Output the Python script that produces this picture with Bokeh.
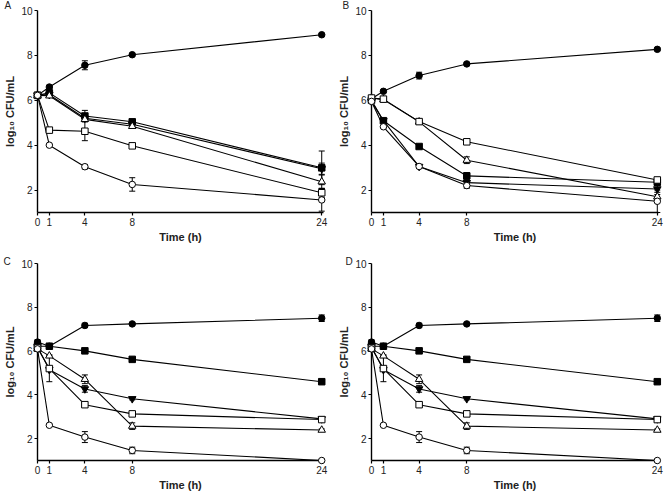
from bokeh.plotting import figure
from bokeh.layouts import gridplot
from bokeh.models import FixedTicker, Range1d
from bokeh.core.properties import value
from bokeh.embed import file_html
from bokeh.resources import INLINE

time_h = [0, 1, 4, 8, 24]
x_ticks = [0, 1, 4, 8, 24]
y_ticks = [2, 4, 6, 8, 10]

# ---- Panel A ----
A_ctrl = [6.22, 6.59, 7.56, 8.03, 8.92]
A_ctrl_err = [0.04, 0.07, 0.20, 0.05, 0.05]
A_fsq = [6.22, 6.33, 5.30, 5.04, 2.99]
A_fsq_err = [0.04, 0.05, 0.25, 0.08, 0.75]
A_ftri = [6.22, 6.25, 5.20, 4.93, 2.95]
A_ftri_err = [0.04, 0.05, 0.10, 0.08, 0.25]
A_otri = [6.22, 6.20, 5.15, 4.84, 2.37]
A_otri_err = [0.04, 0.05, 0.10, 0.08, 0.30]
A_osq = [6.22, 4.67, 4.62, 3.97, 1.88]
A_osq_err = [0.04, 0.05, 0.42, 0.06, 0.20]
A_ocir = [6.22, 4.00, 3.04, 2.25, 1.56]
A_ocir_err = [0.04, 0.04, 0.10, 0.30, 0.50]

# ---- Panel B ----
B_ctrl = [6.07, 6.40, 7.10, 7.62, 8.27]
B_ctrl_err = [0.04, 0.05, 0.15, 0.05, 0.06]
B_fsq = [6.00, 5.09, 3.94, 2.63, 2.35]
B_fsq_err = [0.04, 0.05, 0.06, 0.15, 0.10]
B_ftri = [5.95, 5.09, 3.05, 2.33, 2.05]
B_ftri_err = [0.04, 0.05, 0.06, 0.12, 0.15]
B_otri = [6.10, 6.03, 5.04, 3.33, 1.70]
B_otri_err = [0.04, 0.05, 0.06, 0.15, 0.10]
B_osq = [6.10, 6.05, 5.05, 4.15, 2.45]
B_osq_err = [0.04, 0.05, 0.06, 0.06, 0.06]
B_ocir = [5.95, 4.82, 3.05, 2.20, 1.50]
B_ocir_err = [0.04, 0.05, 0.06, 0.12, 0.50]

# ---- Panel C ----
C_ctrl = [6.41, 6.22, 7.17, 7.24, 7.50]
C_ctrl_err = [0.10, 0.05, 0.10, 0.05, 0.15]
C_fsq = [6.22, 6.22, 6.01, 5.62, 4.60]
C_fsq_err = [0.05, 0.05, 0.05, 0.07, 0.05]
C_ftri = [6.20, 5.15, 4.27, 3.82, 2.90]
C_ftri_err = [0.15, 0.05, 0.15, 0.05, 0.05]
C_otri = [6.10, 5.78, 4.71, 2.57, 2.39]
C_otri_err = [0.05, 0.05, 0.20, 0.15, 0.05]
C_osq = [6.14, 5.20, 3.55, 3.13, 2.87]
C_osq_err = [0.05, 0.60, 0.07, 0.05, 0.05]
C_ocir = [6.10, 2.61, 2.07, 1.46, 1.00]
C_ocir_err = [0.05, 0.05, 0.25, 0.15, 0.02]

# ---- Panel D ----
D_ctrl = [6.41, 6.22, 7.17, 7.24, 7.50]
D_ctrl_err = [0.10, 0.05, 0.10, 0.05, 0.15]
D_fsq = [6.22, 6.22, 6.01, 5.62, 4.60]
D_fsq_err = [0.05, 0.05, 0.05, 0.07, 0.05]
D_ftri = [6.20, 5.15, 4.27, 3.82, 2.90]
D_ftri_err = [0.15, 0.05, 0.15, 0.05, 0.05]
D_otri = [6.10, 5.78, 4.71, 2.57, 2.39]
D_otri_err = [0.05, 0.05, 0.20, 0.15, 0.05]
D_osq = [6.14, 5.20, 3.55, 3.13, 2.87]
D_osq_err = [0.05, 0.60, 0.07, 0.05, 0.05]
D_ocir = [6.10, 2.61, 2.07, 1.46, 1.00]
D_ocir_err = [0.05, 0.05, 0.25, 0.15, 0.02]

marker_styles = [
    ("circle", "black", 6.5),
    ("square", "black", 6.5),
    ("inverted_triangle", "black", 7.5),
    ("triangle", "white", 7.5),
    ("square", "white", 6.5),
    ("circle", "white", 6.5),
]


def make_panel(letter, series, errors, frame_w, frame_h, x_end,
               b_left, b_right, b_top, b_bottom, lx, ly):
    p = figure(frame_width=frame_w, frame_height=frame_h, output_backend="svg",
               toolbar_location=None, x_range=Range1d(0, x_end), y_range=Range1d(1, 10),
               min_border_left=b_left, min_border_right=b_right, min_border_top=b_top,
               min_border_bottom=b_bottom)
    p.outline_line_color = None
    p.xgrid.visible = False
    p.ygrid.visible = False
    p.background_fill_color = "white"
    p.border_fill_color = "white"
    p.xaxis.ticker = FixedTicker(ticks=x_ticks)
    p.yaxis.ticker = FixedTicker(ticks=y_ticks)
    for ax in (p.xaxis[0], p.yaxis[0]):
        ax.axis_line_width = 1.4
        ax.axis_line_color = "black"
        ax.major_tick_line_color = "black"
        ax.major_tick_line_width = 1.2
        ax.major_tick_out = 3
        ax.major_tick_in = 0
        ax.minor_tick_line_color = None
        ax.major_label_text_font = "Liberation Sans"
        ax.major_label_text_font_size = "10px"
        ax.major_label_text_color = "#222222"
        ax.major_label_standoff = 2
        ax.axis_label_text_font = "Liberation Sans"
        ax.axis_label_text_font_style = "bold"
        ax.axis_label_text_font_size = "11px"
        ax.axis_label_text_color = "#222222"
        ax.axis_label_standoff = 2
    p.xaxis.axis_label = "Time (h)"
    p.yaxis.axis_label = "log₁₀ CFU/mL"

    for ys in series:
        p.line(time_h, ys, line_color="black", line_width=1.1)
    for ys, es in zip(series, errors):
        lo = [y - e for y, e in zip(ys, es)]
        hi = [y + e for y, e in zip(ys, es)]
        p.segment(x0=time_h, y0=lo, x1=time_h, y1=hi, line_color="black",
                  line_width=1, level="overlay")
        p.scatter(time_h, lo, marker="dash", size=6, line_color="black", line_width=1, level="overlay")
        p.scatter(time_h, hi, marker="dash", size=6, line_color="black", line_width=1, level="overlay")
    for ys, (mk, fill, sz) in zip(series, marker_styles):
        p.scatter(time_h, ys, marker=mk, size=sz, fill_color=fill, line_color="black",
                  line_width=1, level="overlay")
    p.text(x=[lx], y=[ly], text=[letter], text_baseline="top", text_align="left",
           text_font=value("Liberation Sans"), text_font_size="10px",
           text_color="#222222", level="overlay")
    return p


pA = make_panel("A", [A_ctrl, A_fsq, A_ftri, A_otri, A_osq, A_ocir],
                [A_ctrl_err, A_fsq_err, A_ftri_err, A_otri_err, A_osq_err, A_ocir_err],
                286, 202, 24.15, 37, 9, 10, 34, -2.79, 10.48)
pB = make_panel("B", [B_ctrl, B_fsq, B_ftri, B_otri, B_osq, B_ocir],
                [B_ctrl_err, B_fsq_err, B_ftri_err, B_otri_err, B_osq_err, B_ocir_err],
                287, 202, 24.1, 39, 6, 10, 34, -2.43, 10.48)
pC = make_panel("C", [C_ctrl, C_fsq, C_ftri, C_otri, C_osq, C_ocir],
                [C_ctrl_err, C_fsq_err, C_ftri_err, C_otri_err, C_osq_err, C_ocir_err],
                286, 197, 24.15, 37, 9, 17, 31, -2.87, 10.36)
pD = make_panel("D", [D_ctrl, D_fsq, D_ftri, D_otri, D_osq, D_ocir],
                [D_ctrl_err, D_fsq_err, D_ftri_err, D_otri_err, D_osq_err, D_ocir_err],
                287, 197, 24.1, 39, 6, 17, 31, -2.18, 10.36)

p = gridplot([[pA, pB], [pC, pD]], toolbar_location=None)

open("out.html", "w").write(file_html(p, INLINE))
